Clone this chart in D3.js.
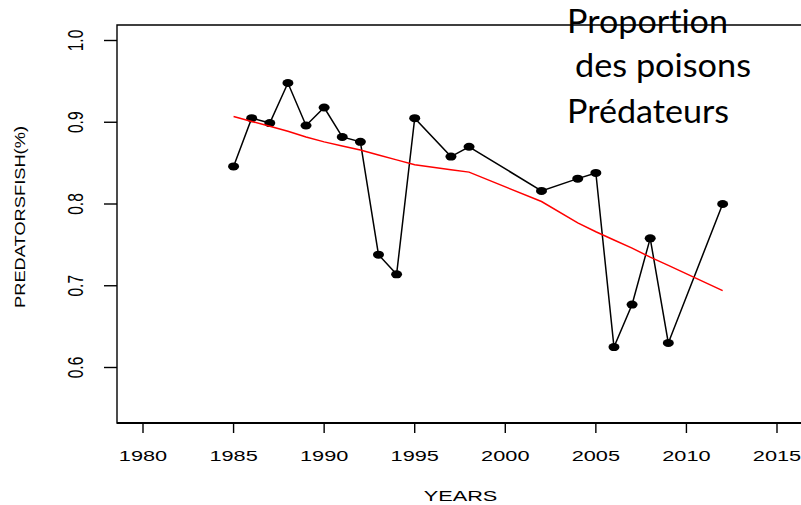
<!DOCTYPE html>
<html>
<head>
<meta charset="utf-8">
<script src="https://cdn.jsdelivr.net/npm/d3@7"></script>
<style>
  body { margin: 0; background: #fff; }
  svg { display: block; }
  text { font-variant-ligatures: none; font-feature-settings: "liga" 0; }
</style>
</head>
<body>
<script>
const width = 801;
const height = 505;

// observed proportion of predator fish
const years = [1985, 1986, 1987, 1988, 1989, 1990, 1991, 1992, 1993, 1994, 1995,
               1997, 1998, 2002, 2004, 2005, 2006, 2007, 2008, 2009, 2012];
const values = [0.846, 0.905, 0.899, 0.948, 0.896, 0.918, 0.882, 0.876, 0.738, 0.714, 0.905,
                0.858, 0.870, 0.816, 0.831, 0.838, 0.625, 0.677, 0.758, 0.630, 0.800];
// smoothed trend (lowess)
const smooth = [0.907, 0.901, 0.895, 0.889, 0.882, 0.876, 0.871, 0.866, 0.860, 0.854, 0.848,
                0.842, 0.839, 0.803, 0.777, 0.766, 0.756, 0.746, 0.735, 0.725, 0.694];

const xTicks = [1980, 1985, 1990, 1995, 2000, 2005, 2010, 2015];
const yTicks = [0.6, 0.7, 0.8, 0.9, 1.0];
const titleLines = ["Proportion", "des poisons", "Prédateurs"];

const x = d3.scaleLinear().domain([1980, 2015]).range([143, 777]);
const y = d3.scaleLinear().domain([0.6, 1.0]).range([367.5, 40.5]);

const box = {left: 117, top: 25, bottom: 423};
const stretch = 1.45; // picture is stretched horizontally

const svg = d3.select("body").append("svg")
    .attr("width", width)
    .attr("height", height);

// plot frame (right side falls outside the picture)
svg.append("path")
    .attr("fill", "none")
    .attr("stroke", "#000")
    .attr("stroke-width", 1.4)
    .attr("d", `M${width},${box.top}H${box.left}V${box.bottom}H${width}`);
svg.append("line")
    .attr("x1", box.left).attr("x2", width)
    .attr("y1", box.bottom).attr("y2", box.bottom)
    .attr("stroke", "#000").attr("stroke-width", 2);

// x axis
const gx = svg.append("g")
    .attr("font-family", "'Liberation Sans', Arial, sans-serif")
    .attr("font-size", 15);
gx.selectAll("line")
  .data(xTicks)
  .join("line")
    .attr("x1", d => x(d)).attr("x2", d => x(d))
    .attr("y1", box.bottom).attr("y2", box.bottom + 10)
    .attr("stroke", "#000").attr("stroke-width", 1.4);
gx.selectAll("text")
  .data(xTicks)
  .join("text")
    .attr("transform", d => `translate(${x(d)},461) scale(${stretch},1)`)
    .attr("text-anchor", "middle")
    .text(d => d);

// y axis
const gy = svg.append("g")
    .attr("font-family", "'Liberation Sans', Arial, sans-serif")
    .attr("font-size", 15.5);
gy.selectAll("line")
  .data(yTicks)
  .join("line")
    .attr("x1", box.left - 13).attr("x2", box.left)
    .attr("y1", d => y(d)).attr("y2", d => y(d))
    .attr("stroke", "#000").attr("stroke-width", 1.4);
gy.selectAll("text")
  .data(yTicks)
  .join("text")
    .attr("transform", d => `translate(83,${y(d)}) scale(${stretch},1) rotate(-90)`)
    .attr("text-anchor", "middle")
    .text(d => d.toFixed(1));

// axis titles
svg.append("text")
    .attr("font-family", "'Liberation Sans', Arial, sans-serif")
    .attr("font-size", 15)
    .attr("text-anchor", "middle")
    .attr("transform", `translate(460.5,501) scale(${stretch},1)`)
    .text("YEARS");

svg.append("text")
    .attr("font-family", "'Liberation Sans', Arial, sans-serif")
    .attr("font-size", 10)
    .attr("text-anchor", "middle")
    .attr("textLength", 182)
    .attr("lengthAdjust", "spacingAndGlyphs")
    .attr("transform", `translate(25,217) scale(${stretch},1) rotate(-90)`)
    .text("PREDATORSFISH(%)");

// observed series
const pts = years.map((yr, i) => ({yr, v: values[i], s: smooth[i]}));

svg.append("path")
    .attr("fill", "none")
    .attr("stroke", "#000")
    .attr("stroke-width", 1.5)
    .attr("d", d3.line().x(d => x(d.yr)).y(d => y(d.v))(pts));

svg.append("g")
  .selectAll("ellipse")
  .data(pts)
  .join("ellipse")
    .attr("cx", d => x(d.yr))
    .attr("cy", d => y(d.v))
    .attr("rx", 5.5)
    .attr("ry", 4)
    .attr("fill", "#000");

// trend
svg.append("path")
    .attr("fill", "none")
    .attr("stroke", "#f00")
    .attr("stroke-width", 1.5)
    .attr("d", d3.line().x(d => x(d.yr)).y(d => y(d.s))(pts));

// title block
const titleX = [567, 575, 567];
const titleY = [33, 77, 123];
const titleW = [161, 176, 162];
svg.append("g")
    .attr("font-family", "Lato, 'Open Sans', sans-serif")
    .attr("font-size", 32)
  .selectAll("text")
  .data(titleLines)
  .join("text")
    .attr("x", (d, i) => titleX[i])
    .attr("y", (d, i) => titleY[i])
    .attr("textLength", (d, i) => titleW[i])
    .attr("lengthAdjust", "spacingAndGlyphs")
    .text(d => d);
</script>
</body>
</html>
